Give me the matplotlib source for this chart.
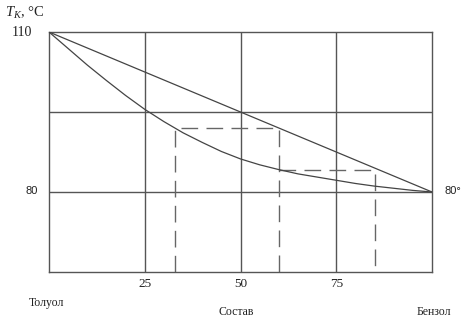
import matplotlib
matplotlib.use("Agg")
import matplotlib.pyplot as plt

# Data
comp_liquid = [0, 5, 10, 15, 20, 25, 30, 35, 40, 45, 50, 55, 60, 65, 70, 75, 80, 85, 90, 95, 100]
temp_liquid = [110, 106.9, 103.8, 100.9, 98.1, 95.5, 93.2, 91.1, 89.3, 87.6, 86.2, 85.1, 84.2,
               83.4, 82.8, 82.2, 81.6, 81.1, 80.7, 80.3, 80]
comp_vapor = [0, 100]
temp_vapor = [110, 80]
step1_x = [33, 33, 60, 60]
step1_t = [65, 92, 92, 65]
step2_x = [60, 85, 85]
step2_t = [84.2, 84.2, 65]
xticks = [25, 50, 75]
xtick_labels = ["25", "50", "75"]

plt.rcParams['mathtext.fontset'] = 'custom'
plt.rcParams['mathtext.it'] = 'Liberation Serif:italic'
plt.rcParams['mathtext.rm'] = 'Liberation Serif'

W, H = 469, 321
fig = plt.figure(figsize=(W / 100, H / 100), dpi=100)
L, R, T, B = 49, 432, 32, 272
ax = fig.add_axes([L / W, 1 - B / H, (R - L) / W, (B - T) / H])
ax.set_xlim(0, 100)
ax.set_ylim(65, 110)

gc = '#555555'
lc = '#444444'
for x in xticks:
    ax.axvline(x, color=gc, lw=1.0, zorder=1)
for y in [95, 80]:
    ax.axhline(y, color=gc, lw=1.0, zorder=1)
for s in ax.spines.values():
    s.set_color(gc)
    s.set_linewidth(1.0)
ax.set_xticks([])
ax.set_yticks([])

ax.plot(comp_vapor, temp_vapor, color=lc, lw=0.9, zorder=3)
ax.plot(comp_liquid, temp_liquid, color=lc, lw=0.9, zorder=3)
dash = (0, (12, 6))
ax.plot(step1_x, step1_t, color='#666666', lw=1.0, linestyle=dash, zorder=2)
ax.plot(step2_x, step2_t, color='#666666', lw=1.0, linestyle=dash, zorder=2)

serif = 'Liberation Serif'
sans = 'Liberation Sans'
tc = '#222222'

def px(x, y, s, **kw):
    fig.text(x / W, 1 - y / H, s, color=tc, **kw)

for xv, lab in zip(xticks, xtick_labels):
    xp = L + (R - L) * xv / 100
    px(xp, 284, lab, family=serif, fontsize=9.5, ha='center', va='center')

px(22, 32, "110", family=serif, fontsize=10, ha='center', va='center')
px(32, 191, "80", family=sans, fontsize=8, ha='center', va='center')
px(453, 191, "80°", family=sans, fontsize=8, ha='center', va='center')
px(5, 13, r"$T_K$, °C", family=serif, fontsize=10.5, ha='left', va='center')
px(46, 303, "Толуол", family=serif, fontsize=8.5, ha='center', va='center')
px(236, 312, "Состав", family=serif, fontsize=8.5, ha='center', va='center')
px(434, 312, "Бензол", family=serif, fontsize=8.5, ha='center', va='center')

fig.savefig("out.png", dpi=100)
